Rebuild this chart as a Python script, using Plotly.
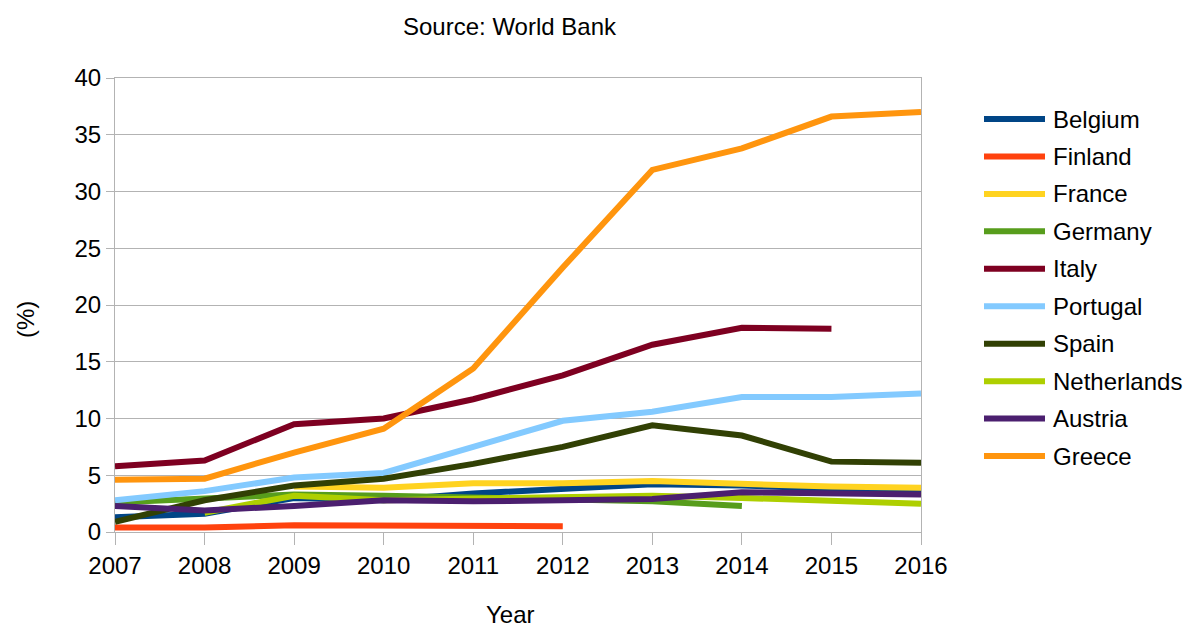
import plotly.graph_objects as go

# Non-performing loans (% of gross loans), World Bank
years = [2007, 2008, 2009, 2010, 2011, 2012, 2013, 2014, 2015, 2016]

belgium = [1.3, 1.6, 3.0, 2.8, 3.4, 3.8, 4.2, 4.1, 3.8, 3.7]
finland = [0.4, 0.4, 0.6, 0.6, 0.5, 0.5, None, None, None, None]
france = [None, None, 4.0, 3.9, 4.3, 4.3, 4.5, 4.2, 4.0, 3.9]
germany = [2.6, 2.9, 3.3, 3.2, 3.0, 2.9, 2.7, 2.3, None, None]
italy = [5.8, 6.3, 9.5, 10.0, 11.7, 13.8, 16.5, 18.0, 17.9, None]
portugal = [2.8, 3.6, 4.8, 5.2, 7.5, 9.8, 10.6, 11.9, 11.9, 12.2]
spain = [0.9, 2.8, 4.1, 4.7, 6.0, 7.5, 9.4, 8.5, 6.2, 6.1]
netherlands = [None, 1.7, 3.2, 2.8, 2.9, 3.1, 3.2, 3.0, 2.7, 2.5]
austria = [2.3, 1.9, 2.3, 2.8, 2.7, 2.8, 2.9, 3.5, 3.4, 3.3]
greece = [4.6, 4.7, 7.0, 9.1, 14.4, 23.3, 31.9, 33.8, 36.6, 37.0]

countries = ["Belgium", "Finland", "France", "Germany", "Italy",
             "Portugal", "Spain", "Netherlands", "Austria", "Greece"]
values = [belgium, finland, france, germany, italy,
          portugal, spain, netherlands, austria, greece]
colors = ["#004586", "#ff420e", "#ffd320", "#579d1c", "#7e0021",
          "#83caff", "#314004", "#aecf00", "#4b1f6f", "#ff950e"]

y_ticks = [0, 5, 10, 15, 20, 25, 30, 35, 40]

FONT = "Liberation Sans, Arial, sans-serif"
GRID = "#b3b3b3"

# plot area geometry in pixels (used for paper-coordinate placement)
W, H = 1192, 628
L, R, T, B = 115, 271, 78, 96
PW, PH = W - L - R, H - T - B


def px_x(x):
    return (x - L) / PW


def px_y(y):
    return (H - B - y) / PH


fig = go.Figure()
for name, vals, col in zip(countries, values, colors):
    fig.add_trace(go.Scatter(
        x=years, y=vals, name=name, mode="lines",
        line=dict(color=col, width=6),
        connectgaps=False, showlegend=False,
    ))

# legend drawn as line samples with labels on the right
row0, row_gap = 119, 37.45
for i, (name, col) in enumerate(zip(countries, colors)):
    yy = px_y(row0 + i * row_gap)
    fig.add_shape(type="line", xref="paper", yref="paper",
                  x0=px_x(984), x1=px_x(1045), y0=yy, y1=yy,
                  line=dict(color=col, width=6))
    fig.add_annotation(xref="paper", yref="paper", x=px_x(1051), y=yy,
                       text=name, showarrow=False, xanchor="left",
                       yanchor="middle", font=dict(size=24, color="black"))

fig.add_annotation(xref="paper", yref="paper", x=px_x(510), y=px_y(27),
                   text="Source: World Bank", showarrow=False,
                   xanchor="center", yanchor="middle",
                   font=dict(size=24, color="black"))
fig.add_annotation(xref="paper", yref="paper", x=px_x(510), y=px_y(614),
                   text="Year", showarrow=False,
                   xanchor="center", yanchor="middle",
                   font=dict(size=24, color="black"))
fig.add_annotation(xref="paper", yref="paper", x=px_x(25), y=px_y(320),
                   text="(%)", showarrow=False, textangle=-90,
                   xanchor="center", yanchor="middle",
                   font=dict(size=24, color="black"))

fig.update_layout(
    width=W, height=H,
    margin=dict(l=L, r=R, t=T, b=B, pad=0),
    paper_bgcolor="white", plot_bgcolor="white",
    font=dict(family=FONT, size=24, color="black"),
    showlegend=False,
    xaxis=dict(
        range=[2007, 2016], tickmode="array", tickvals=years,
        ticktext=[str(y) for y in years],
        showgrid=False, zeroline=False,
        showline=True, linecolor=GRID, linewidth=1, mirror=True,
        ticks="outside", ticklen=12, tickcolor=GRID, tickwidth=1,
        tickfont=dict(size=24, color="black"),
    ),
    yaxis=dict(
        range=[0, 40], tickmode="array", tickvals=y_ticks,
        showgrid=True, gridcolor=GRID, gridwidth=1, zeroline=False,
        showline=True, linecolor=GRID, linewidth=1, mirror=True,
        ticks="outside", ticklen=8, tickcolor=GRID, tickwidth=1,
        tickfont=dict(size=24, color="black"),
    ),
)

fig.write_html("out.html")
